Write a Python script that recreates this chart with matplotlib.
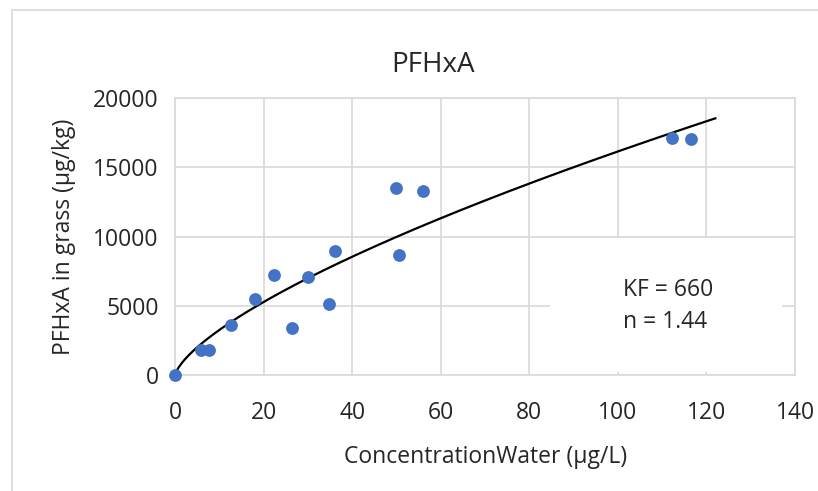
import numpy as np
import matplotlib.pyplot as plt
from matplotlib.patches import Rectangle

plt.rcParams["font.family"] = ["Open Sans", "DejaVu Sans"]

# measured PFHxA: water concentration vs grass concentration
conc_water = [0.0, 5.8, 7.6, 12.5, 17.9, 22.4, 26.3, 30.0, 34.7, 36.0,
              49.8, 50.6, 56.0, 112.1, 116.6]
conc_grass = [0, 1830, 1830, 3630, 5490, 7240, 3420, 7100, 5130, 8930,
              13500, 8690, 13310, 17160, 17090]

# Freundlich fit parameters
KF = 660
n = 1.44
fit_max = 122

x_ticks = [0, 20, 40, 60, 80, 100, 120, 140]
y_ticks = [0, 5000, 10000, 15000, 20000]

fig = plt.figure(figsize=(8.18, 4.91), dpi=100)
ax = fig.add_axes([0.2143, 0.2363, 0.7576, 0.5635])

# chart border
fig.patches.append(Rectangle((12 / 818, -0.1), 1.2, 1 - 10 / 491 + 0.1,
                             transform=fig.transFigure, fill=False,
                             edgecolor="#d9d9d9", linewidth=1.2))

ax.set_xlim(0, 140)
ax.set_ylim(0, 20000)
ax.set_xticks(x_ticks)
ax.set_yticks(y_ticks)
ax.grid(True, color="#d9d9d9", linewidth=1.2)
ax.set_axisbelow(True)
for s in ax.spines.values():
    s.set_color("#d9d9d9")
    s.set_linewidth(1.2)
ax.tick_params(length=0, labelsize=16.5, colors="#262626")
ax.tick_params(axis="x", pad=19)
ax.tick_params(axis="y", pad=12)

xf = np.linspace(0, fit_max, 400)
ax.plot(xf, KF * xf ** (1 / n), color="black", linewidth=1.6, zorder=3)
ax.scatter(conc_water, conc_grass, s=85, color="#4472C4", zorder=4,
           clip_on=False, linewidths=0)

# label box over the grid
ax.add_patch(Rectangle((0.6045, 0.0108), 0.375, 0.484, transform=ax.transAxes,
                       facecolor="white", edgecolor="none", zorder=2))
ax.text(0.7225, 0.25, "KF = 660\nn = 1.44", transform=ax.transAxes,
        fontsize=16.5, color="#262626", va="center", ha="left",
        linespacing=1.45, zorder=5)

fig.text(433 / 818, 1 - 65 / 491, "PFHxA", fontsize=20, color="#262626",
         ha="center", va="center")
ax.set_xlabel("ConcentrationWater (µg/L)", fontsize=16.5, color="#262626",
              labelpad=14)
ax.set_ylabel("PFHxA in grass (µg/kg)", fontsize=16.5, color="#262626",
              labelpad=12)

fig.savefig("out.png", dpi=100)
